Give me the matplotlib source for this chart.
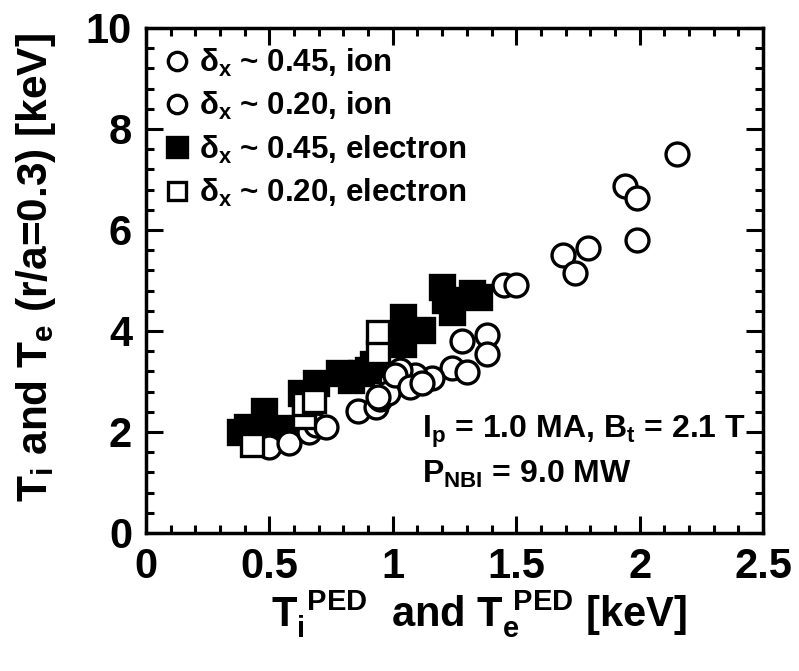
import matplotlib
matplotlib.use("Agg")
import matplotlib.pyplot as plt
from matplotlib.ticker import MultipleLocator

plt.rcParams['font.family'] = ['Liberation Sans', 'DejaVu Sans']
plt.rcParams['font.weight'] = 'bold'
plt.rcParams['axes.labelweight'] = 'bold'
plt.rcParams['mathtext.default'] = 'regular'

# イオン温度 δx~0.45
ion45_x = [2.15, 1.94, 1.99, 1.99, 1.69, 1.79, 1.74, 1.45, 1.50, 1.28, 1.38,
           1.38, 1.24, 1.30, 1.16, 1.09, 1.03]
ion45_y = [7.50, 6.87, 6.64, 5.80, 5.50, 5.65, 5.15, 4.92, 4.92, 3.80, 3.92,
           3.55, 3.27, 3.19, 3.07, 3.13, 3.23]
# イオン温度 δx~0.20
ion20_x = [0.50, 0.58, 0.66, 0.69, 0.73, 0.86, 0.93, 0.95, 0.98, 1.01, 1.07,
           1.12, 0.94]
ion20_y = [1.70, 1.78, 2.00, 2.14, 2.10, 2.42, 2.50, 2.65, 2.77, 3.13, 2.89,
           2.97, 2.69]
# 電子温度 δx~0.45
el45_x = [0.38, 0.41, 0.47, 0.48, 0.57, 0.63, 0.69, 0.78, 0.83, 0.87, 0.92,
          0.90, 1.04, 1.04, 1.12, 1.20, 1.21, 1.24, 1.32, 1.35]
el45_y = [2.00, 2.10, 2.05, 2.42, 2.07, 2.78, 2.97, 3.17, 3.03, 3.17, 3.35,
          3.23, 3.75, 4.27, 4.02, 4.88, 4.62, 4.38, 4.75, 4.67]
# 電子温度 δx~0.20
el20_x = [0.43, 0.64, 0.64, 0.68, 0.94, 0.94]
el20_y = [1.75, 2.30, 2.55, 2.62, 3.58, 3.98]

fig = plt.figure(figsize=(7.99, 6.71), dpi=100)
ax = fig.add_axes([0.1827, 0.2057, 0.7723, 0.7526])

mew = 2.4
h1, = ax.plot(ion45_x, ion45_y, 'o', ms=16.5, mfc='white', mec='black', mew=mew, zorder=3,
              label=r'$\delta_x$ ~ 0.45, ion')
h2, = ax.plot(ion20_x, ion20_y, 'o', ms=16.5, mfc='white', mec='black', mew=mew, zorder=3,
              label=r'$\delta_x$ ~ 0.20, ion')
h3, = ax.plot(el45_x, el45_y, 's', ms=17.5, mfc='black', mec='black', mew=mew, zorder=2,
              label=r'$\delta_x$ ~ 0.45, electron')
h4, = ax.plot(el20_x, el20_y, 's', ms=16, mfc='white', mec='black', mew=mew, zorder=4,
              label=r'$\delta_x$ ~ 0.20, electron')

ax.set_xlim(0, 2.5)
ax.set_ylim(0, 10)
ax.xaxis.set_major_locator(MultipleLocator(0.5))
ax.xaxis.set_minor_locator(MultipleLocator(0.1))
ax.yaxis.set_major_locator(MultipleLocator(2))
ax.yaxis.set_minor_locator(MultipleLocator(0.4))
ax.set_xticks([0, 0.5, 1, 1.5, 2, 2.5])
ax.set_xticklabels(['0', '0.5', '1', '1.5', '2', '2.5'])
ax.tick_params(which='both', direction='in', top=True, right=True,
               labelsize=30, width=2.2, pad=10)
ax.tick_params(which='major', length=12)
ax.tick_params(which='minor', length=6)
for s in ax.spines.values():
    s.set_linewidth(2.5)

ax.set_xlabel(r'$T_i^{\ PED}$  and $T_e^{\ PED}$ [keV]', fontsize=30)
ax.xaxis.set_label_coords(0.54, -0.11)
ax.set_ylabel(r'$T_i$ and $T_e$ (r/a=0.3) [keV]', fontsize=30.5)
ax.yaxis.set_label_coords(-0.143, 0.525)

ax.legend(handles=[h1, h2, h3, h4], loc='upper left', frameon=False, fontsize=22.5,
          markerscale=0.8, handlelength=0.8, handletextpad=0.3, labelspacing=0.36,
          borderaxespad=0.2)

ax.text(1.12, 2.0, r'$I_p$ = 1.0 MA, $B_t$ = 2.1 T', fontsize=23, va='center')
ax.text(1.12, 1.15, r'$P_{NBI}$ = 9.0 MW', fontsize=23, va='center')

fig.savefig('out.png', dpi=100)
